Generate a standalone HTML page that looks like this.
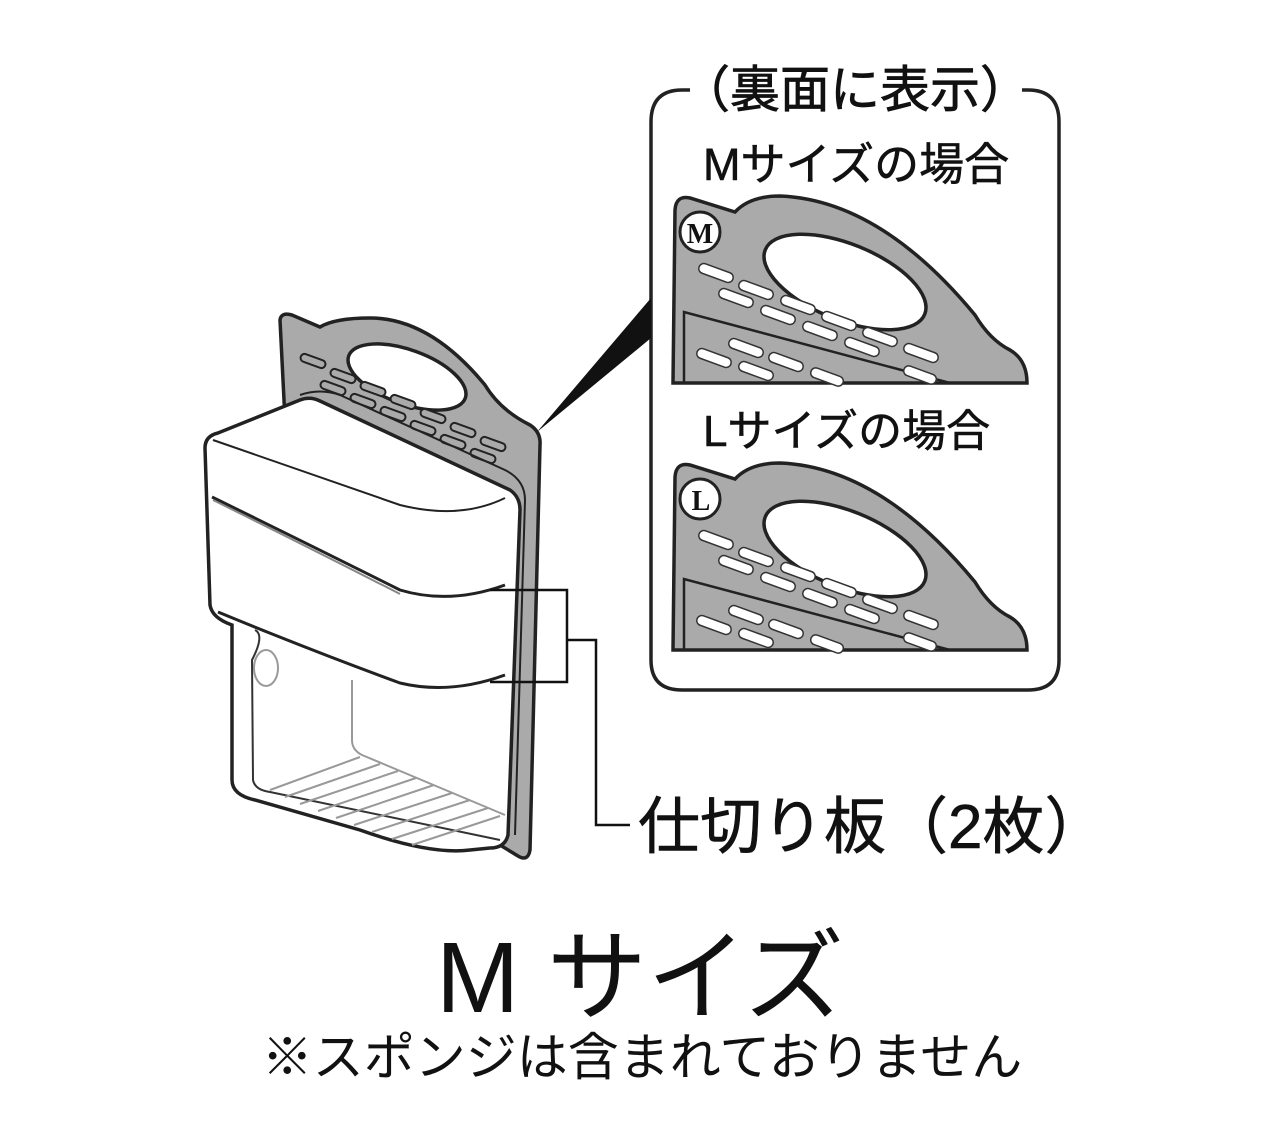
<!DOCTYPE html>
<html><head><meta charset="utf-8"><style>
html,body{margin:0;padding:0;background:#fff;}
svg{display:block;}
text{font-family:"Liberation Sans","Noto Sans CJK JP",sans-serif;fill:#111;}
</style></head><body>
<svg width="1280" height="1131" viewBox="0 0 1280 1131" xmlns="http://www.w3.org/2000/svg">
<path d="M690,90 L682,90 Q651,90 651,122 L651,660 Q651,690 682,690 L1028,690 Q1059,690 1059,660 L1059,122 Q1059,90 1028,90 L1022,90" fill="none" stroke="#222" stroke-width="3.5"/>
<text x="855" y="107" font-size="50" text-anchor="middle" stroke="#111" stroke-width="0.8">（裏面に表示）</text>
<text x="703" y="180" font-size="45" stroke="#111" stroke-width="0.6">Mサイズの場合</text>
<text x="703" y="446" font-size="44" stroke="#111" stroke-width="0.6">Lサイズの場合</text>

<defs>
<g id="plate">
<path d="M673,383 L675,210 Q676,195 690,198 L735,212 Q750,196 780,196 Q880,200 975,315 Q990,340 1010,350 Q1027,360 1027,383 Z" fill="#aaa" stroke="#222" stroke-width="3.5"/>
<ellipse cx="845" cy="282" rx="86" ry="38" transform="rotate(22 845 282)" fill="#fff" stroke="#222" stroke-width="3.5"/>
<path d="M684,383 L684,312 L950,383" fill="none" stroke="#222" stroke-width="2.5"/>
<g fill="#fff" stroke="#333" stroke-width="1.5">
<rect x="698" y="268" width="36" height="10" rx="5" transform="rotate(20 716 273)"/>
<rect x="738" y="285" width="36" height="10" rx="5" transform="rotate(20 756 290)"/>
<rect x="718" y="293" width="36" height="10" rx="5" transform="rotate(20 736 298)"/>
<rect x="780" y="300" width="36" height="10" rx="5" transform="rotate(20 798 305)"/>
<rect x="760" y="310" width="36" height="10" rx="5" transform="rotate(20 778 315)"/>
<rect x="821" y="316" width="36" height="10" rx="5" transform="rotate(20 839 321)"/>
<rect x="802" y="326" width="36" height="10" rx="5" transform="rotate(20 820 331)"/>
<rect x="862" y="332" width="36" height="10" rx="5" transform="rotate(20 880 337)"/>
<rect x="844" y="342" width="36" height="10" rx="5" transform="rotate(20 862 347)"/>
<rect x="903" y="348" width="36" height="10" rx="5" transform="rotate(20 921 353)"/>
<rect x="696" y="353" width="36" height="10" rx="5" transform="rotate(20 714 358)"/>
<rect x="728" y="343" width="36" height="10" rx="5" transform="rotate(20 746 348)"/>
<rect x="738" y="366" width="36" height="10" rx="5" transform="rotate(20 756 371)"/>
<rect x="768" y="357" width="36" height="10" rx="5" transform="rotate(20 786 362)"/>
<rect x="810" y="372" width="34" height="10" rx="5" transform="rotate(20 827 377)"/>
<rect x="903" y="370" width="34" height="10" rx="5" transform="rotate(20 920 375)"/>
</g>
<circle cx="700" cy="232" r="20" fill="#fff" stroke="#222" stroke-width="3"/>
</g>
</defs>
<use href="#plate"/>
<text x="700" y="243" font-size="28" font-weight="bold" text-anchor="middle" style="font-family:'Liberation Serif',serif">M</text>
<use href="#plate" y="267"/>
<text x="701" y="510" font-size="28" font-weight="bold" text-anchor="middle" style="font-family:'Liberation Serif',serif">L</text>

<polygon points="537,432 651,298 651,338" fill="#111"/>

<path d="M280,320 Q281,312 292,315 L320,327 Q335,318 370,318 Q430,318 485,385 Q500,410 530,425 Q541,432 540,445 L530,850 Q528,862 518,856 L500,845 L285,420 Z" fill="#aaa" stroke="#222" stroke-width="3.5"/>
<ellipse cx="407" cy="377" rx="62" ry="27" transform="rotate(20 407 377)" fill="#fff" stroke="#222" stroke-width="3.5"/>
<g fill="#aaa" stroke="#222" stroke-width="2">
<rect x="300" y="357" width="26" height="8" rx="4" transform="rotate(20 313 361)"/>
<rect x="330" y="372" width="26" height="8" rx="4" transform="rotate(20 343 376)"/>
<rect x="320" y="384" width="26" height="8" rx="4" transform="rotate(20 333 388)"/>
<rect x="360" y="385" width="26" height="8" rx="4" transform="rotate(20 373 389)"/>
<rect x="350" y="397" width="26" height="8" rx="4" transform="rotate(20 363 401)"/>
<rect x="390" y="398" width="26" height="8" rx="4" transform="rotate(20 403 402)"/>
<rect x="380" y="410" width="26" height="8" rx="4" transform="rotate(20 393 414)"/>
<rect x="420" y="412" width="26" height="8" rx="4" transform="rotate(20 433 416)"/>
<rect x="410" y="424" width="26" height="8" rx="4" transform="rotate(20 423 428)"/>
<rect x="450" y="426" width="26" height="8" rx="4" transform="rotate(20 463 430)"/>
<rect x="440" y="438" width="26" height="8" rx="4" transform="rotate(20 453 442)"/>
<rect x="480" y="440" width="26" height="8" rx="4" transform="rotate(20 493 444)"/>
<rect x="470" y="452" width="26" height="8" rx="4" transform="rotate(20 483 456)"/>
</g>
<path d="M300,395 Q320,388 340,395 L505,470 Q525,480 525,500 L515,835" fill="none" stroke="#222" stroke-width="2"/>

<path d="M205,448 Q205,436 218,433 L300,400 Q310,396 320,401 L510,490 Q520,497 520,510 L508,835 Q505,848 490,848 L470,850 Q430,855 360,830 L255,800 Q232,795 232,780 L232,625 Q212,618 210,605 Z" fill="#fff" stroke="#222" stroke-width="3.5"/>
<path d="M213,440 Q300,470 400,505 Q460,520 505,498" fill="none" stroke="#222" stroke-width="2"/>
<path d="M212,497 Q310,545 400,590 Q450,605 505,585" fill="none" stroke="#222" stroke-width="3"/>
<path d="M213,500 Q310,548 400,594" fill="none" stroke="#888" stroke-width="2"/>
<path d="M218,612 Q310,650 400,683 Q450,695 505,675" fill="none" stroke="#222" stroke-width="3"/>
<path d="M255,630 Q265,635 252,660 L253,780 Q255,790 270,792 L500,840" fill="none" stroke="#333" stroke-width="2"/>
<ellipse cx="266" cy="668" rx="12" ry="18" fill="none" stroke="#999" stroke-width="2"/>
<path d="M352,680 L352,740 Q352,750 362,755 L505,815" fill="none" stroke="#999" stroke-width="2"/>
<g stroke="#999" stroke-width="2">
<line x1="270" y1="790" x2="360" y2="757"/><line x1="285" y1="797" x2="380" y2="764"/>
<line x1="300" y1="804" x2="398" y2="771"/><line x1="318" y1="811" x2="416" y2="778"/>
<line x1="336" y1="818" x2="434" y2="785"/><line x1="354" y1="825" x2="452" y2="793"/>
<line x1="372" y1="832" x2="470" y2="800"/><line x1="392" y1="839" x2="488" y2="808"/>
<line x1="412" y1="845" x2="500" y2="816"/>
</g>

<path d="M490,590 L567,590 L567,682 L490,682 M567,640 L596,640 L596,825 L630,825" fill="none" stroke="#111" stroke-width="2.5"/>
<text x="638" y="848" font-size="62" stroke="#111" stroke-width="0.6">仕切り板（2枚）</text>

<text x="640" y="1012" font-size="100" text-anchor="middle">M サイズ</text>
<text x="642" y="1075" font-size="51" text-anchor="middle">※スポンジは含まれておりません</text>
</svg>
</body></html>
